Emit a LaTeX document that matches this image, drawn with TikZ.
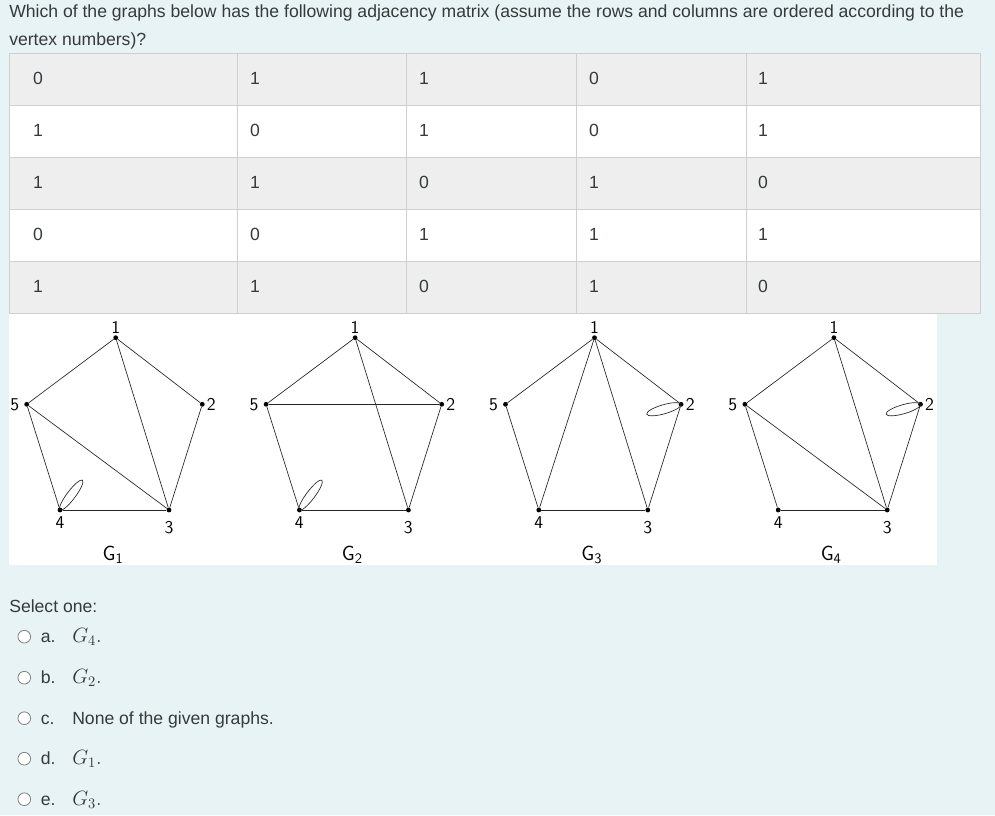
\RequirePackage{fix-cm}
\documentclass[tikz,border=0pt]{standalone}
\usepackage{fontspec}
\setmainfont{Liberation Sans}

\definecolor{formbg}{HTML}{E7F3F5}
\definecolor{rowgray}{HTML}{EEEEEE}
\definecolor{rulegray}{HTML}{CFCFCF}
\definecolor{txt}{HTML}{373A3C}

\begin{document}
\begin{tikzpicture}[x=0.75pt,y=-0.75pt]

\tikzset{
  vertex/.style={circle,fill=black,inner sep=0pt,minimum size=3.6pt},
  vlabel/.style={font=\sffamily\fontsize{13.5}{15}\selectfont,inner sep=1pt},
  glabel/.style={font=\fontsize{15.5}{18}\selectfont,inner sep=0pt,anchor=base},
  edge/.style={draw=black!85,line width=0.5pt},
  plain/.style={font=\fontsize{13.2}{16}\selectfont,text=txt,inner sep=0pt},
  cell/.style={plain,anchor=base},
  radio/.style={circle,draw=black!50,fill=white,line width=0.6pt,minimum size=9.5pt,inner sep=0pt},
}

\useasboundingbox (0,0) rectangle (995,815);
\fill[formbg] (0,0) rectangle (995,815);

%% Question
\node[plain,anchor=base west] (q1) at (9,17.3) {Which of the graphs below has the following adjacency matrix (assume the rows and columns are ordered according to the};
\node[plain,anchor=base west] (q2) at (9,45) {vertex numbers)?};

%% Graph panel
\fill[white] (9,313) rectangle (937,565);

%% Matrix
\foreach \r/\col in {0/rowgray,1/white,2/rowgray,3/white,4/rowgray}
    \fill[\col] (9,{53+52*\r}) rectangle (980,{105+52*\r});
\draw[rulegray] (9,53) rectangle (980,313);
\foreach \y in {105,157,209,261}
    \draw[rulegray] (9,\y) -- (980,\y);
\foreach \x in {237,406,576,746}
    \draw[rulegray] (\x,53) -- (\x,313);

\foreach \r/\row in {0/{0,1,1,0,1},1/{1,0,1,0,1},2/{1,1,0,1,0},3/{0,0,1,1,1},4/{1,1,0,1,0}}{
    \foreach \v [count=\c] in \row {
        \pgfmathsetmacro\cx{{38,255,424,594,763}[\c-1]}
        \node[cell] (m\r-\c) at (\cx,{84.3+52*\r}) {\v};
    }
}

%% Graphs
\foreach \g/\bx/\edges in {1/115.7/{1/5,1/2,1/3,5/3,5/4,2/3,4/3},
                           2/355.1/{1/5,1/2,1/3,5/2,5/4,2/3,4/3},
                           3/594.5/{1/5,1/2,1/4,1/3,5/4,2/3,4/3},
                           4/833.9/{1/5,1/2,1/3,5/3,5/4,2/3,4/3}}{
    \node[vertex] (g\g-1) at (\bx,337.7) {};
    \node[vertex] (g\g-2) at ({\bx+86.6},404.3) {};
    \node[vertex] (g\g-3) at ({\bx+53.3},510) {};
    \node[vertex] (g\g-4) at ({\bx-55.7},510) {};
    \node[vertex] (g\g-5) at ({\bx-89},404.3) {};
    \node[vlabel,anchor=south] (g\g-l1) at (g\g-1.north) {1};
    \node[vlabel,anchor=west] (g\g-l2) at ([xshift=0.3pt]g\g-2.east) {2};
    \node[vlabel,anchor=north] (g\g-l3) at ([yshift=-5pt]g\g-3.south) {3};
    \node[vlabel,anchor=north] (g\g-l4) at ([yshift=-2pt]g\g-4.south) {4};
    \node[vlabel,anchor=east] (g\g-l5) at ([xshift=-2.5pt]g\g-5.west) {5};
    \node[glabel] (g\g-name) at ({\bx-2.7},560.5) {$\mathsf{G}_{\mathsf{\g}}$};
    \foreach \a/\b in \edges
        \draw[edge] (g\g-\a) -- (g\g-\b);
}

%% Loops
\draw[edge,shift={(g1-4.center)},rotate=53] (14pt,0pt) ellipse (14pt and 3.2pt);
\draw[edge,shift={(g2-4.center)},rotate=53] (14pt,0pt) ellipse (14pt and 3.2pt);
\draw[edge,shift={(g3-2.center)},rotate=16] (-13.4pt,0pt) ellipse (13.4pt and 3.4pt);
\draw[edge,shift={(g4-2.center)},rotate=16] (-13.4pt,0pt) ellipse (13.4pt and 3.4pt);

%% Answers
\node[plain,anchor=base west] (sel) at (9,612) {Select one:};
\foreach \o/\lab/\y in {a/{\fontsize{15.5}{18}\selectfont$G_4.$}/642.5,
                        b/{\fontsize{15.5}{18}\selectfont$G_2.$}/683.5,
                        c/{None of the given graphs.}/724,
                        d/{\fontsize{15.5}{18}\selectfont$G_1.$}/764.5,
                        e/{\fontsize{15.5}{18}\selectfont$G_3.$}/805}{
    \node[radio] (r\o) at (24.3,{\y-5.8}) {};
    \node[plain,anchor=base west] (o\o) at (40.5,\y) {\o.};
    \node[plain,anchor=base west] (t\o) at (72,\y) {\lab};
}

\end{tikzpicture}
\end{document}
